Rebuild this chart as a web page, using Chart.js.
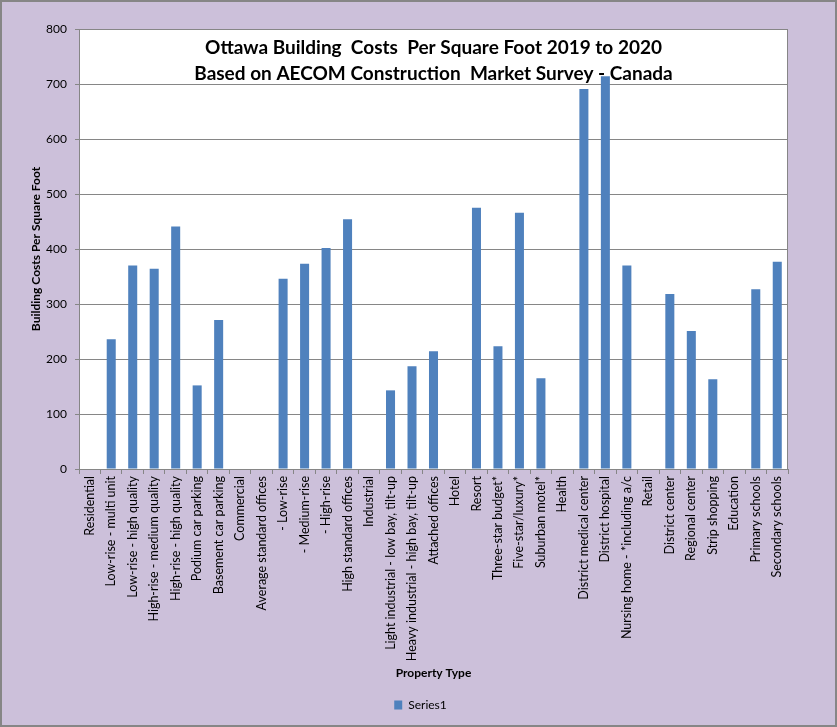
<!DOCTYPE html>
<html>
<head>
<meta charset="utf-8">
<script src="https://cdn.jsdelivr.net/npm/chart.js@4.4.1/dist/chart.umd.min.js"></script>
<style>
html,body{margin:0;padding:0;background:#CCC0DA;}
#wrap{width:837px;height:727px;position:relative;}
</style>
</head>
<body>
<div id="wrap"><canvas id="c" width="837" height="727"></canvas></div>
<script>
const categories = [
  "Residential",
  "Low-rise - multi unit",
  "Low-rise - high quality",
  "High-rise - medium quality",
  "High-rise - high quality",
  "Podium car parking",
  "Basement car parking",
  "Commercial",
  "Average standard offices",
  " - Low-rise",
  " - Medium-rise",
  " - High-rise",
  "High standard offices",
  "Industrial",
  "Light industrial - low bay, tilt-up",
  "Heavy industrial - high bay, tilt-up",
  "Attached offices",
  "Hotel",
  "Resort",
  "Three-star budget*",
  "Five-star/luxury*",
  "Suburban motel*",
  "Health",
  "District medical center",
  "District hospital",
  "Nursing home - *including a/c",
  "Retail",
  "District center",
  "Regional center",
  "Strip shopping",
  "Education",
  "Primary schools",
  "Secondary schools"
];
const series1 = [
  null, 236, 370, 364, 441, 152, 271,
  null, null, 346, 373, 402, 454,
  null, 143, 187, 214,
  null, 475, 223, 466, 165,
  null, 691, 714, 370,
  null, 318, 251, 163,
  null, 327, 377
];
const seriesName = "Series1";
const titleLines = ["Ottawa Building  Costs  Per Square Foot 2019 to 2020", "Based on AECOM Construction  Market Survey - Canada"];
const yAxisTitle = "Building Costs Per Square Foot";
const xAxisTitle = "Property Type";

const bgPlugin = {
  id: 'bg',
  beforeDraw(chart) {
    const {ctx, chartArea: a} = chart;
    ctx.save();
    ctx.fillStyle = '#CCC0DA';
    ctx.fillRect(0, 0, chart.width, chart.height);
    ctx.strokeStyle = '#868686';
    ctx.lineWidth = 2;
    ctx.strokeRect(1, 1, chart.width - 2, chart.height - 2);
    ctx.fillStyle = '#FFFFFF';
    ctx.fillRect(a.left, a.top, a.right - a.left, a.bottom - a.top);
    ctx.restore();
  },
  afterDraw(chart) {
    const {ctx, chartArea: a} = chart;
    ctx.save();
    ctx.strokeStyle = '#868686';
    ctx.lineWidth = 1;
    ctx.strokeRect(a.left + 0.5, a.top + 0.5, a.right - a.left - 1, a.bottom - a.top);
    ctx.fillStyle = '#000';
    ctx.font = 'bold 19px Lato';
    ctx.textAlign = 'center';
    ctx.textBaseline = 'middle';
    const cx = (a.left + a.right) / 2;
    ctx.fillText(titleLines[0], cx, a.top + 19);
    ctx.fillText(titleLines[1], cx, a.top + 45);
    ctx.restore();
  }
};

new Chart(document.getElementById('c'), {
  type: 'bar',
  data: {
    labels: categories,
    datasets: [{
      label: seriesName,
      data: series1,
      backgroundColor: '#4F81BD',
      borderWidth: 0,
      barPercentage: 0.42,
      categoryPercentage: 1.0
    }]
  },
  options: {
    responsive: false,
    animation: false,
    devicePixelRatio: 1,
    layout: { padding: { left: 29, right: 25, top: 29, bottom: 6 } },
    plugins: {
      legend: {
        position: 'bottom',
        labels: {
          boxWidth: 8, boxHeight: 9, padding: 10,
          color: '#000', font: { family: 'Lato', size: 12 }
        }
      },
      tooltip: { enabled: false }
    },
    scales: {
      x: {
        offset: true,
        grid: { offset: true, drawOnChartArea: false, color: '#868686', tickLength: 5, tickColor: '#868686' },
        border: { color: '#868686' },
        ticks: {
          autoSkip: false, maxRotation: 90, minRotation: 90,
          color: '#000', font: { family: 'Lato', size: 12.5 }, padding: 2
        },
        title: {
          display: true, text: xAxisTitle, color: '#000',
          font: { family: 'Lato', size: 12, weight: 'bold' },
          padding: { top: 4, bottom: 9 }
        },
        afterFit(scale) { scale.height = 220; }
      },
      y: {
        min: 0, max: 800,
        ticks: { stepSize: 100, color: '#000', font: { family: 'Lato', size: 12 }, padding: 8 },
        grid: { color: '#868686', tickLength: 4, tickColor: '#868686' },
        border: { color: '#868686' },
        title: {
          display: true, text: yAxisTitle, color: '#000',
          font: { family: 'Lato', size: 12, weight: 'bold' },
          padding: { top: 0, bottom: 4 }
        },
        afterFit(scale) { scale.width = 50; }
      },
      yRight: {
        position: 'right',
        display: true,
        min: 0, max: 800,
        ticks: { display: false },
        grid: { display: false, drawOnChartArea: false },
        border: { display: false },
        afterFit(scale) { scale.width = 24; }
      }
    }
  },
  plugins: [bgPlugin]
});
</script>
</body>
</html>
